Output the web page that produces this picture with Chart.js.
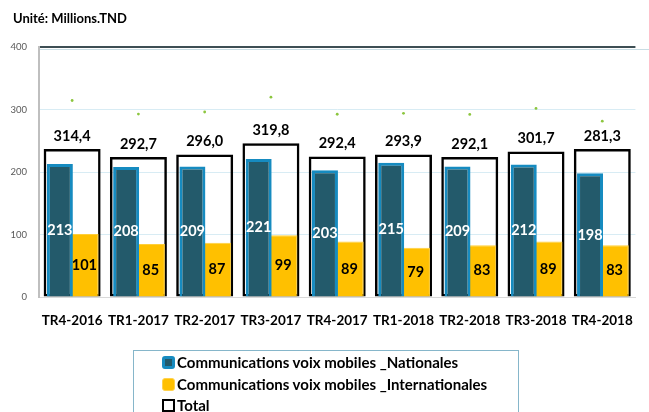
<!DOCTYPE html>
<html>
<head>
<meta charset="utf-8">
<script src="https://cdn.jsdelivr.net/npm/chart.js@4"></script>
<style>
  html, body { margin: 0; padding: 0; background: #fff; }
  #wrap { position: relative; width: 649px; height: 412px; overflow: hidden; font-family: Lato, "Open Sans", sans-serif; }
  #chartBox { position: absolute; left: 0; top: 0; width: 649px; height: 412px; }
  #title { position: absolute; left: 13px; top: 10px; font-weight: bold; font-size: 13px; color: #000; }
  #legend { position: absolute; left: 133px; top: 350px; width: 386px; height: 80px; border: 1.5px solid #86b6ca; box-sizing: border-box; padding: 1px 0 0 28px; }
  .item { height: 21.5px; line-height: 21.5px; font-weight: bold; font-size: 15px; color: #000; white-space: nowrap; display: flex; align-items: center; }
  .mk { width: 13px; height: 13px; box-sizing: border-box; margin-right: 2px; flex: none; }
  .mk.nat { background: #235a6b; border: 3px solid #168bc0; border-radius: 3px; }
  .mk.int { background: #ffc000; border: 1px solid #ffd24d; border-radius: 3px; }
  .mk.tot { background: #fff; border: 2px solid #000; }
  #topline2 { position: absolute; left: 40px; top: 48.5px; width: 609px; height: 1px; background: #c9dde4; }
</style>
</head>
<body>
<div id="wrap">
  <div id="chartBox"><canvas id="c"></canvas></div>
  <div id="topline2"></div>
  <div id="title">Unité: Millions.TND</div>
  <div id="legend"></div>
</div>
<script>
const categories = ['TR4-2016','TR1-2017','TR2-2017','TR3-2017','TR4-2017','TR1-2018','TR2-2018','TR3-2018','TR4-2018'];
const nationales = [213, 208, 209, 221, 203, 215, 209, 212, 198];
const internationales = [101, 85, 87, 99, 89, 79, 83, 89, 83];
const totals = [314.4, 292.7, 296.0, 319.8, 292.4, 293.9, 292.1, 301.7, 281.3];
const totalBoxHeights = [237, 224, 228, 246, 225, 228, 224, 233, 237];
const yTicks = [0, 100, 200, 300, 400];
const seriesNames = ['Communications voix mobiles _Nationales', 'Communications voix mobiles _Internationales', 'Total'];

const legendEl = document.getElementById('legend');
['nat','int','tot'].forEach((cls, i) => {
  const d = document.createElement('div');
  d.className = 'item';
  d.innerHTML = '<span class="mk ' + cls + '"></span><span></span>';
  d.lastChild.textContent = seriesNames[i];
  legendEl.appendChild(d);
});

Chart.defaults.font.family = 'Lato, "Open Sans", sans-serif';

const labelPlugin = {
  id: 'valueLabels',
  afterDatasetsDraw(chart) {
    const ctx = chart.ctx;
    ctx.save();
    ctx.textAlign = 'center';
    ctx.textBaseline = 'middle';
    chart.data.datasets.forEach((ds, di) => {
      const meta = chart.getDatasetMeta(di);
      if (!ds.labelMode) return;
      meta.data.forEach((el, i) => {
        if (ds.labelMode === 'total') {
          ctx.font = 'bold 14.5px Lato, "Open Sans", sans-serif';
          ctx.fillStyle = '#000';
          ctx.fillText(totals[i].toFixed(1).replace('.', ','), el.x, el.y - 13);
        } else {
          ctx.font = 'bold 14.5px Lato, "Open Sans", sans-serif';
          ctx.fillStyle = ds.labelColor;
          ctx.fillText(String(ds.data[i]), el.x, (el.y + el.base) / 2);
        }
      });
    });
    ctx.restore();
  }
};

new Chart(document.getElementById('c'), {
  type: 'bar',
  data: {
    labels: categories,
    datasets: [
      {
        label: seriesNames[0],
        data: nationales,
        backgroundColor: '#235a6b',
        borderColor: '#168bc0',
        borderWidth: 3,
        borderSkipped: 'bottom',
        categoryPercentage: 0.74,
        barPercentage: 1.06,
        order: 1,
        labelMode: 'value',
        labelColor: '#ffffff'
      },
      {
        label: seriesNames[1],
        data: internationales,
        backgroundColor: '#ffc000',
        borderColor: '#ffcf3a',
        borderWidth: 1,
        borderSkipped: 'bottom',
        categoryPercentage: 0.74,
        barPercentage: 1.16,
        order: 2,
        labelMode: 'value',
        labelColor: '#000000'
      },
      {
        label: seriesNames[2],
        data: totalBoxHeights,
        grouped: false,
        backgroundColor: 'rgba(255,255,255,0)',
        borderColor: '#000000',
        borderWidth: 2.5,
        borderSkipped: false,
        categoryPercentage: 1,
        barPercentage: 0.86,
        order: 3,
        labelMode: 'total'
      },
      {
        type: 'line',
        label: 'Total (points)',
        data: totals,
        showLine: false,
        pointRadius: 1.4,
        pointBackgroundColor: '#8cc63f',
        pointBorderWidth: 0,
        order: 0
      }
    ]
  },
  options: {
    responsive: true,
    maintainAspectRatio: false,
    animation: false,
    layout: { padding: { top: 47, right: 0, left: 0, bottom: 0 } },
    plugins: { legend: { display: false }, tooltip: { enabled: false } },
    scales: {
      x: {
        grid: { display: false, drawTicks: false },
        border: { color: '#d9d9d9', width: 1 },
        ticks: { color: '#000', font: { size: 13.5, weight: 'bold' }, padding: 16, maxRotation: 0, autoSkip: false },
        afterFit: s => { s.height = 115; }
      },
      y: {
        min: 0, max: 400,
        afterBuildTicks: s => { s.ticks = yTicks.map(v => ({ value: v })); },
        grid: {
          drawTicks: false,
          color: c => c.tick && c.tick.value === 400 ? '#3d4e54' : (c.tick && c.tick.value === 0 ? '#d9d9d9' : '#d8ecf4'),
          lineWidth: c => c.tick && c.tick.value === 400 ? 2 : 1
        },
        border: { color: '#bfbfbf', width: 2 },
        ticks: { color: '#595959', font: { size: 9.5 }, padding: 12 },
        afterFit: s => { s.width = 39; }
      }
    }
  },
  plugins: [labelPlugin]
});
</script>
</body>
</html>
